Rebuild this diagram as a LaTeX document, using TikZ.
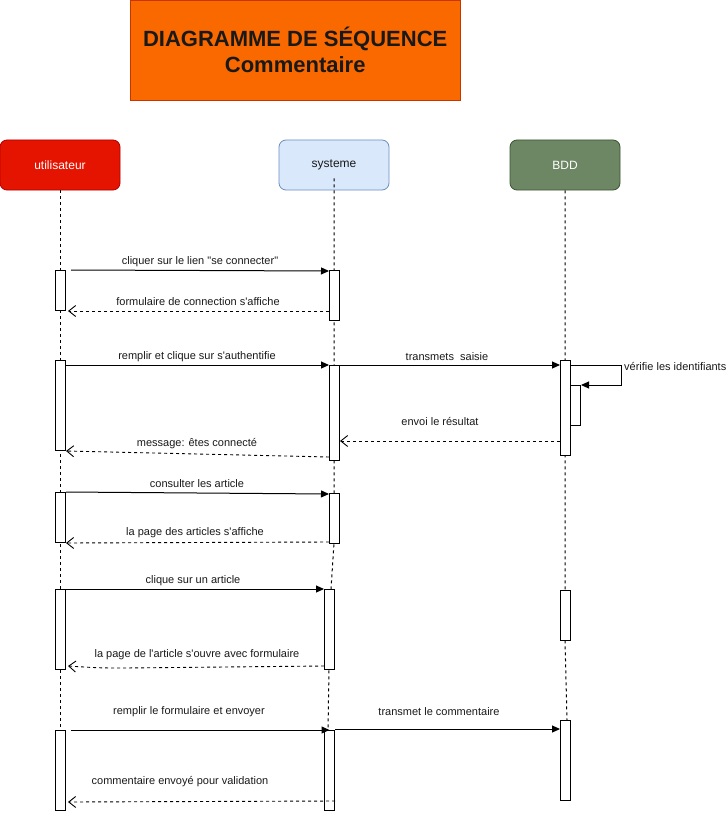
\documentclass[tikz,border=0pt]{standalone}
\usepackage{fontspec}
\setmainfont{Liberation Sans}[Ligatures=TeXOff]
\usetikzlibrary{arrows.meta,calc}
\definecolor{titlefill}{HTML}{FA6800}
\definecolor{titledraw}{HTML}{C73500}
\definecolor{userfill}{HTML}{E51400}
\definecolor{userdraw}{HTML}{B20000}
\definecolor{sysfill}{HTML}{DAE8FC}
\definecolor{sysdraw}{HTML}{6C8EBF}
\definecolor{bddfill}{HTML}{6D8764}
\definecolor{bdddraw}{HTML}{3A5431}
\tikzset{
  head/.style={draw, rounded corners=7pt, minimum width=120pt, minimum height=50pt, font=\fontsize{12}{14}\selectfont, line width=0.8pt},
  act/.style={draw, fill=white, line width=1pt, minimum width=10pt, anchor=north west, inner sep=0pt},
  life/.style={line width=1pt, dash pattern=on 3pt off 3pt},
  msg/.style={line width=1pt, -{Triangle[length=8pt,width=7pt]}},
  ret/.style={line width=0.9pt, dash pattern=on 3pt off 3pt, -{Straight Barb[length=7pt,width=11pt,line width=0.9pt]}},
  lbl/.style={font=\fontsize{11}{13}\selectfont, inner sep=0pt, text=black!90}
}
\begin{document}
\begin{tikzpicture}[x=1pt,y=-1pt]
\useasboundingbox (0,0) rectangle (727,813);
% title
\node[draw=titledraw, fill=titlefill, minimum width=330pt, minimum height=100pt, anchor=north west, inner sep=0pt, align=center, font=\fontsize{22}{26}\bfseries\selectfont, text=black!90] (title) at (130,0) {DIAGRAMME DE SÉQUENCE\\Commentaire};
% heads
\node[head, fill=userfill, draw=userdraw, text=white] (user) at (60,165) {utilisateur};
\node[head, fill=sysfill, draw=sysdraw, minimum width=110pt, text=black!90] (sys) at (334,165) {systeme};
\node[head, fill=bddfill, draw=bdddraw, minimum width=110pt, text=white] (bdd) at (565,165) {BDD};
% lifelines
\draw[life] (user.south) -- (60,810);
\draw[life] ($(sys.south)+(0,-12)$) -- (334,543) -- (331,589) -- (329,669) -- (328,730) -- (329,810);
\draw[life] (bdd.south) -- (565,455) -- (565,590) -- (565,640) -- (567,720) -- (567,800);
% activations
\node[act, minimum height=40pt] (u1) at (55,270) {};
\node[act, minimum height=90pt] (u2) at (55,360) {};
\node[act, minimum height=50pt] (u3) at (55,492) {};
\node[act, minimum height=80pt] (u4) at (55,589) {};
\node[act, minimum height=80pt] (u5) at (55,730) {};
\node[act, minimum height=50pt] (s1) at (329,270) {};
\node[act, minimum height=95pt] (s2) at (329,365) {};
\node[act, minimum height=50pt] (s3) at (329,493) {};
\node[act, minimum height=80pt] (s4) at (324,589) {};
\node[act, minimum height=80pt] (s5) at (324,730) {};
\node[act, minimum height=95pt] (b1) at (560,360) {};
\node[act, minimum height=40pt] (b1n) at (570,385) {};
\node[act, minimum height=50pt] (b2) at (560,590) {};
\node[act, minimum height=80pt] (b3) at (560,720) {};
% messages
\draw[msg] ($(u1.north east)+(5,0)$) -- ($(s1.north west)+(0,1)$);
\node[lbl] (l1) at (200,262) {cliquer sur le lien "se connecter"};
\draw[ret] ($(s1.south west)+(0,-10)$) -- ($(u1.south east)+(2,0)$);
\node[lbl] (l2) at (198,302) {formulaire de connection s'affiche};
\draw[msg] ($(u2.north east)+(0,5)$) -- (s2.north west);
\node[lbl] (l3) at (197,357) {remplir et clique sur s'authentifie};
\draw[msg] (s2.north east) -- ($(b1.north west)+(0,5)$);
\node[lbl] (l4) at (447,357) {transmets\ \ saisie};
\draw[msg] ($(b1.north east)+(0,5)$) -- ++(50,0) -- ++(0,20) -- (b1n.north east);
\node[lbl, anchor=west] (l5) at (624,367) {vérifie les identifiants};
\draw[ret] ($(b1.south west)+(0,-15)$) -- ($(s2.south east)+(0,-20)$);
\node[lbl] (l6) at (440,422) {envoi le résultat};
\draw[ret] ($(s2.south west)+(0,-4)$) -- (u2.south east);
\node[lbl] (l7) at (197,444) {message: êtes connecté};
\draw[msg] (u3.north east) -- ($(s3.north west)+(0,1)$);
\node[lbl] (l8) at (197,484) {consulter les article};
\draw[ret] ($(s3.south west)+(0,-2)$) -- (u3.south east);
\node[lbl] (l9) at (195,533) {la page des articles s'affiche};
\draw[msg] (u4.north east) -- (s4.north west);
\node[lbl] (l10) at (193,581) {clique sur un article};
\draw[ret] ($(s4.south west)+(0,-4)$) -- (125,668) .. controls (100,668) .. ($(u4.south east)+(2,-4)$);
\node[lbl] (l11) at (197,655) {la page de l'article s'ouvre avec formulaire};
\draw[msg] ($(u5.north east)+(5,0)$) -- (s5.north);
\node[lbl] (l12) at (189,712) {remplir le formulaire et envoyer};
\draw[msg] ($(s5.north east)+(0,-1)$) -- ($(b3.north west)+(0,9)$);
\node[lbl] (l13) at (439,712) {transmet le commentaire};
\draw[ret] ($(s5.south east)+(0,-10)$) -- ($(u5.south east)+(2,-9)$);
\node[lbl] (l14) at (180,782) {commentaire envoyé pour validation};
\end{tikzpicture}
\end{document}
